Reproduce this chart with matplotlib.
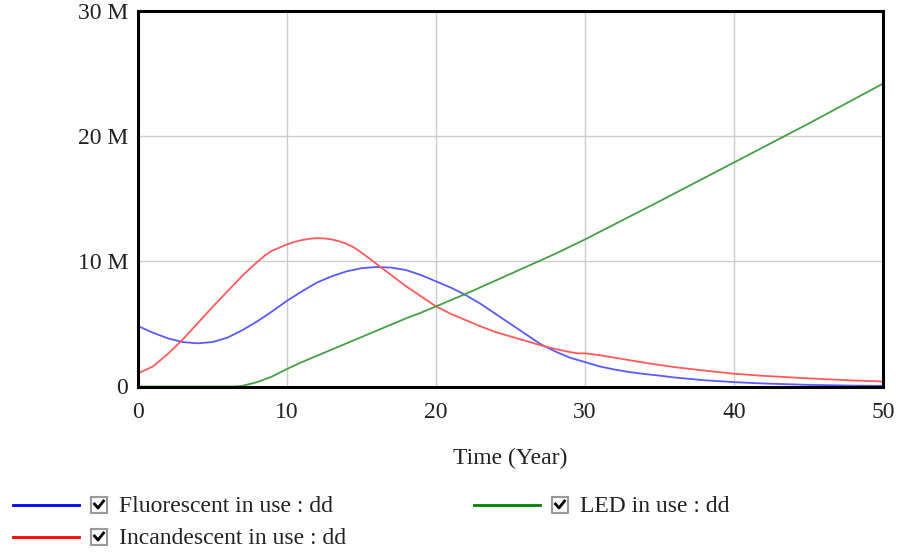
import matplotlib
matplotlib.use('Agg')
import matplotlib.pyplot as plt
from matplotlib.patches import Rectangle
from matplotlib.lines import Line2D

# values, in millions
years_fl = [0, 1, 2, 3, 4, 5, 6, 7, 8, 9, 10, 11, 12, 13, 14, 15, 16, 17, 18, 19, 20,
            21, 22, 23, 24, 25, 26, 27, 28, 29, 30, 31, 32, 33, 34, 35, 36, 38, 40, 42, 45, 48, 50]
fluorescent = [4.83, 4.3, 3.85, 3.55, 3.45, 3.55, 3.9, 4.5, 5.2, 6.0, 6.85, 7.6, 8.3, 8.8, 9.2,
               9.45, 9.55, 9.5, 9.3, 8.9, 8.4, 7.9, 7.3, 6.6, 5.8, 5.0, 4.2, 3.4, 2.8, 2.3, 1.95,
               1.6, 1.35, 1.15, 1.0, 0.87, 0.72, 0.5, 0.35, 0.24, 0.13, 0.07, 0.05]

years_inc = [0, 1, 2, 3, 4, 5, 6, 7, 8, 8.5, 9, 9.5, 10, 10.5, 11, 11.5, 12, 12.5, 13, 13.5,
             14, 14.5, 15, 16, 17, 18, 19, 20, 21, 22, 23, 24, 25, 26, 27, 28, 29, 29.5, 30,
             31, 32, 33, 34, 35, 36, 38, 40, 42, 45, 48, 50]
incandescent = [1.05, 1.6, 2.6, 3.75, 5.05, 6.35, 7.6, 8.85, 9.95, 10.45, 10.85, 11.1, 11.35,
                11.55, 11.7, 11.8, 11.85, 11.83, 11.75, 11.6, 11.4, 11.1, 10.7, 9.8, 8.9, 8.0,
                7.2, 6.4, 5.8, 5.3, 4.8, 4.35, 4.0, 3.65, 3.3, 3.0, 2.75, 2.65, 2.65, 2.5, 2.3,
                2.1, 1.9, 1.72, 1.55, 1.27, 1.02, 0.85, 0.65, 0.48, 0.4]

years_led = [0, 6.5, 7, 8, 9, 10, 11, 12, 13, 14, 15, 16, 17, 18, 19, 20, 22, 25, 28, 30, 35, 40, 45, 50]
led = [0, 0, 0.05, 0.35, 0.8, 1.4, 1.95, 2.45, 2.95, 3.45, 3.95, 4.45, 4.95, 5.45, 5.9, 6.4,
       7.4, 9.0, 10.6, 11.75, 14.8, 17.9, 21.0, 24.2]

x_ticks = [0, 10, 20, 30, 40, 50]
y_ticks = [0, 10, 20, 30]
y_labels = ['0', '10 M', '20 M', '30 M']

serif = 'Liberation Serif'
fs = 17

fig = plt.figure(figsize=(9.01, 5.52), dpi=100)
ax = fig.add_axes([138 / 901, 1 - 386.5 / 552, 745 / 901, 375.5 / 552])

ax.plot(years_fl, fluorescent, color='#5a5aff', lw=1.3)
ax.plot(years_inc, incandescent, color='#ff5a5a', lw=1.3)
ax.plot(years_led, led, color='#45a045', lw=1.3)

ax.set_xlim(0, 50)
ax.set_ylim(0, 30)
ax.set_xticks(x_ticks)
ax.set_yticks(y_ticks)
ax.set_yticklabels(y_labels)
ax.grid(True, color='#cccccc', lw=1)
ax.set_axisbelow(True)
ax.tick_params(axis='x', length=0, pad=11, labelsize=fs, colors='#222222')
ax.tick_params(axis='y', length=0, pad=7, labelsize=fs, colors='#222222')
for lab in ax.get_xticklabels() + ax.get_yticklabels():
    lab.set_family(serif)
for s in ax.spines.values():
    s.set_linewidth(2.2)
    s.set_color('black')

ax.set_xlabel('Time (Year)', family=serif, fontsize=fs, labelpad=18, color='#222222')

# legend drawn by hand, in pixel coordinates from the top-left
def px(x, y):
    return x / 901, 1 - y / 552

legend = [
    ('Fluorescent in use : dd', '#0000ff', 13, 505),
    ('Incandescent in use : dd', '#ff0000', 13, 537),
    ('LED in use : dd', '#008000', 474, 505),
]
for label, col, x0, y0 in legend:
    xa, ya = px(x0, y0)
    xb, _ = px(x0 + 66, y0)
    fig.add_artist(Line2D([xa, xb], [ya, ya], color=col, lw=2))
    bx, by = px(x0 + 78, y0 + 8)
    fig.add_artist(Rectangle((bx, by), 16 / 901, 16 / 552, facecolor='white',
                             edgecolor='#999999', lw=1.5))
    cx = [x0 + 81.5, x0 + 85, x0 + 90.5]
    cy = [y0 - 1, y0 + 3, y0 - 4]
    fig.add_artist(Line2D([c / 901 for c in cx], [1 - c / 552 for c in cy], color='black', lw=2))
    tx, ty = px(x0 + 106, y0 + 2)
    fig.text(tx, ty, label, family=serif, fontsize=fs, va='center', ha='left', color='#222222')

fig.savefig('out.png', dpi=100)
